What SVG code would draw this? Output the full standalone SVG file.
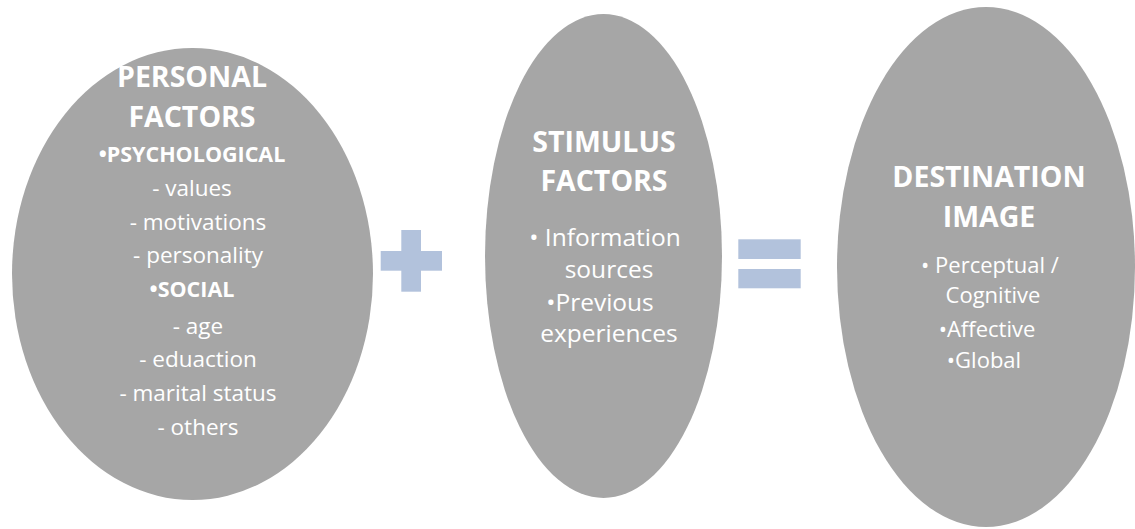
<svg xmlns="http://www.w3.org/2000/svg" width="1135" height="529" viewBox="0 0 1135 529">
<style>
.oval{fill:#A6A6A6}
.op{fill:#B2C2DC}
text{font-family:"Open Sans","Noto Sans","Liberation Sans",sans-serif;fill:#FFFFFF;text-anchor:middle}
.t{font-weight:bold;font-size:28.5px}
.h{font-weight:bold;font-size:21.5px}
.b1{font-size:22.5px}
.b2{font-size:24.5px}
.b3{font-size:22px}
</style>
<rect width="1135" height="529" fill="#FFFFFF"/>
<g id="personal-factors">
<ellipse class="oval" cx="192.5" cy="274" rx="180.5" ry="226"/>
<text class="t" x="192" y="87">PERSONAL</text>
<text class="t" x="192" y="127">FACTORS</text>
<text class="h" x="192" y="162">•PSYCHOLOGICAL</text>
<text class="b1" x="192" y="196">- values</text>
<text class="b1" x="198" y="230">- motivations</text>
<text class="b1" x="198" y="263">- personality</text>
<text class="h" x="192" y="297">•SOCIAL</text>
<text class="b1" x="198" y="334">- age</text>
<text class="b1" x="198" y="367">- eduaction</text>
<text class="b1" x="198" y="401">- marital status</text>
<text class="b1" x="198" y="435">- others</text>
</g>
<g id="stimulus-factors">
<ellipse class="oval" cx="603.5" cy="256" rx="118.5" ry="242"/>
<text class="t" x="604" y="152">STIMULUS</text>
<text class="t" x="604" y="191">FACTORS</text>
<text class="b2" x="605" y="246">• Information</text>
<text class="b2" x="609" y="278">sources</text>
<text class="b2" x="600" y="311">•Previous</text>
<text class="b2" x="609" y="342">experiences</text>
</g>
<g id="destination-image">
<ellipse class="oval" cx="986" cy="267" rx="149" ry="260"/>
<text class="t" x="989" y="187">DESTINATION</text>
<text class="t" x="989" y="227">IMAGE</text>
<text class="b3" x="990" y="273">• Perceptual /</text>
<text class="b3" x="993" y="303">Cognitive</text>
<text class="b3" x="987" y="337">•Affective</text>
<text class="b3" x="984" y="368">•Global</text>
</g>
<g id="connectors">
<g id="plus">
<rect class="op" x="380.7" y="251" width="61.3" height="19.7"/>
<rect class="op" x="401.3" y="230" width="19.7" height="61.7"/>
</g>
<g id="equals">
<rect class="op" x="738.3" y="239.3" width="62.4" height="19.7"/>
<rect class="op" x="738.3" y="269" width="62.4" height="19.3"/>
</g>
</g>
</svg>
